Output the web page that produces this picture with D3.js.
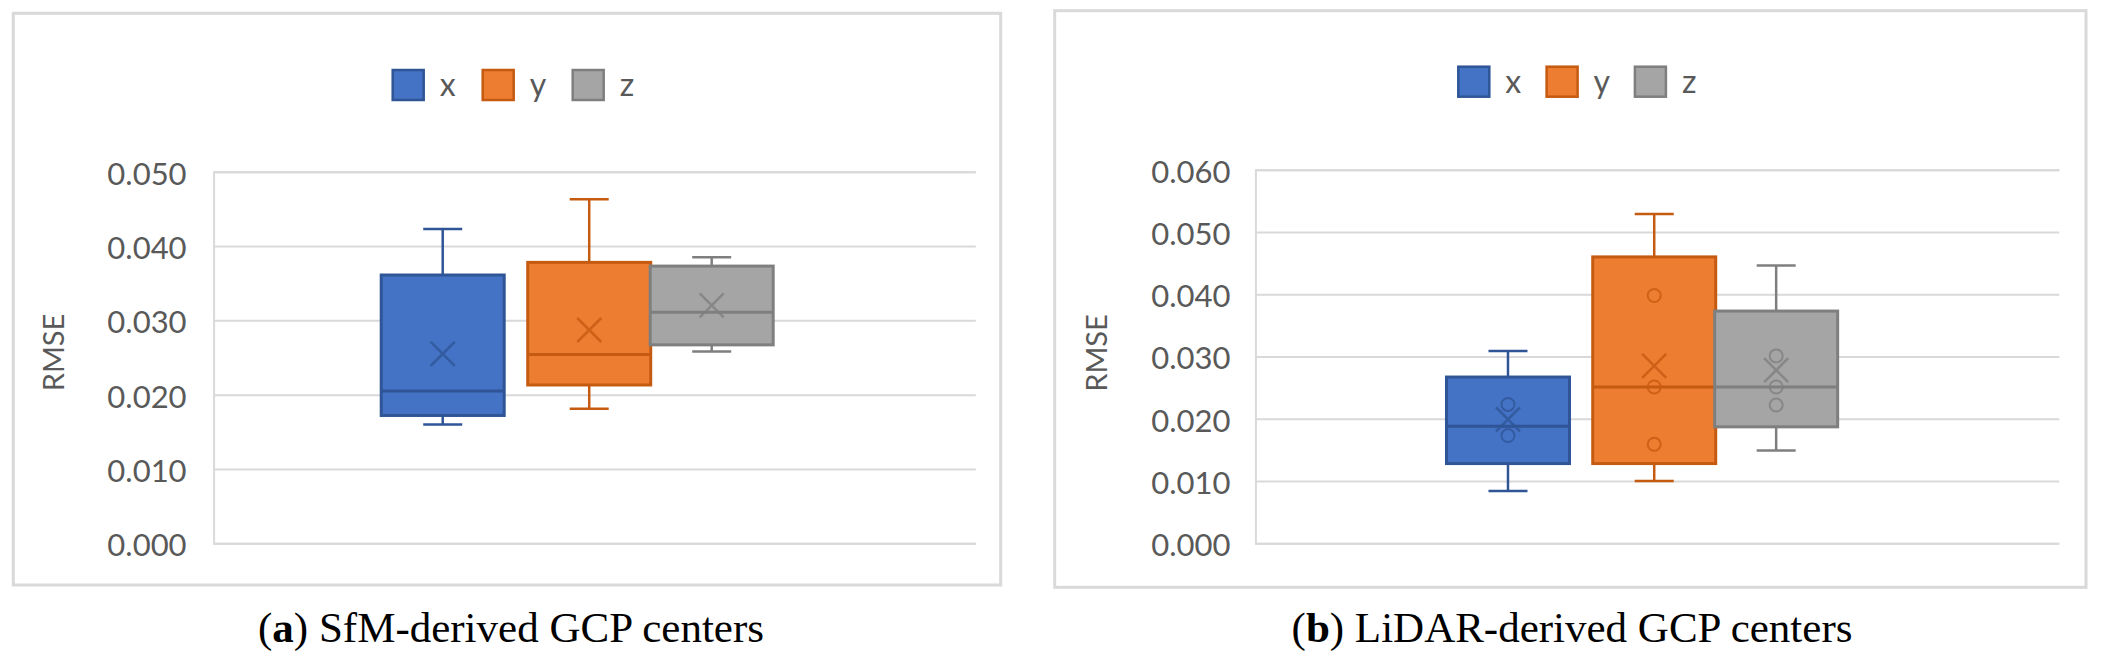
<!DOCTYPE html>
<html>
<head>
<meta charset="utf-8">
<script src="https://cdn.jsdelivr.net/npm/d3@7"></script>
<style>
  html, body { margin: 0; padding: 0; background: #ffffff; }
  svg { display: block; }
</style>
</head>
<body>
<svg id="chart" width="2102" height="659"></svg>
<script>
// ---------------- DATA ----------------
const series = ["x", "y", "z"];

// (a) SfM-derived GCP centers
const aTicks = [0.000, 0.010, 0.020, 0.030, 0.040, 0.050];
const aMin    = [0.0160, 0.0181, 0.0258];
const aQ1     = [0.0172, 0.0213, 0.0267];
const aMedian = [0.0205, 0.0254, 0.0311];
const aQ3     = [0.0361, 0.0378, 0.0373];
const aMax    = [0.0423, 0.0463, 0.0385];
const aMean   = [0.0255, 0.0287, 0.0320];
const aPoints = [[], [], []];

// (b) LiDAR-derived GCP centers
const bTicks = [0.000, 0.010, 0.020, 0.030, 0.040, 0.050, 0.060];
const bMin    = [0.0084, 0.0100, 0.0149];
const bQ1     = [0.0128, 0.0128, 0.0187];
const bMedian = [0.0188, 0.0251, 0.0251];
const bQ3     = [0.0267, 0.0460, 0.0373];
const bMax    = [0.0309, 0.0529, 0.0446];
const bMean   = [0.0199, 0.0285, 0.0278];
const bPoints = [[0.0223, 0.0173], [0.0398, 0.0251, 0.0159], [0.0301, 0.0251, 0.0222]];

const axisTitle = "RMSE";
const captionLetters = ["a", "b"];
const captionTexts = [" SfM-derived GCP centers", " LiDAR-derived GCP centers"];

// ---------------- STYLE ----------------
const fillColor = d3.scaleOrdinal().domain(series).range(["#4472C4", "#ED7D31", "#A5A5A5"]);
const strokeColor = d3.scaleOrdinal().domain(series).range(["#2F5597", "#C55A11", "#7F7F7F"]);
const textColor = "#595959";
const gridColor = "#d9d9d9";
const sansFont = "Lato, 'Open Sans', 'Liberation Sans', sans-serif";
const serifFont = "'Liberation Serif', 'DejaVu Serif', serif";

const charts = [
  {
    ticks: aTicks, min: aMin, q1: aQ1, med: aMedian, q3: aQ3, max: aMax, mean: aMean, pts: aPoints,
    panel: { x0: 13.3, y0: 13.3, x1: 1000.7, y1: 585 },
    plot: { left: 213.6, right: 975.8, top: 171.7, bottom: 543.3 },
    centers: [0.3006, 0.4928, 0.6535],
    legend: { x: 392.7, cy: 85, pitch: 90 },
    rmseX: 53.3, rmseY: 352.5, labelGap: 27,
    captionX: 511
  },
  {
    ticks: bTicks, min: bMin, q1: bQ1, med: bMedian, q3: bQ3, max: bMax, mean: bMean, pts: bPoints,
    panel: { x0: 1054.7, y0: 10.7, x1: 2086, y1: 587.3 },
    plot: { left: 1255.4, right: 2059.3, top: 169.75, bottom: 543.25 },
    centers: [0.3142, 0.4961, 0.6478],
    legend: { x: 1458.3, cy: 81.7, pitch: 88.3 },
    rmseX: 1097, rmseY: 353, labelGap: 25,
    captionX: 1572
  }
];

const svg = d3.select("#chart");
const boxW = 123, capW = 39;

charts.forEach((c, ci) => {
  const g = svg.append("g");

  // panel border
  g.append("rect")
    .attr("x", c.panel.x0).attr("y", c.panel.y0)
    .attr("width", c.panel.x1 - c.panel.x0).attr("height", c.panel.y1 - c.panel.y0)
    .attr("fill", "#fff").attr("stroke", gridColor).attr("stroke-width", 3);

  const y = d3.scaleLinear()
    .domain([0, d3.max(c.ticks)])
    .range([c.plot.bottom, c.plot.top]);
  const frac = d3.scaleLinear().domain([0, 1]).range([c.plot.left, c.plot.right]);
  const xPos = d3.scaleOrdinal().domain(series).range(c.centers.map(f => frac(f)));

  // y axis with gridlines
  const axis = d3.axisLeft(y)
    .tickValues(c.ticks)
    .tickFormat(d3.format(".3f"))
    .tickSize(-(c.plot.right - c.plot.left))
    .tickPadding(c.labelGap);
  const ag = g.append("g")
    .attr("transform", `translate(${c.plot.left},0)`)
    .call(axis);
  ag.select(".domain").attr("stroke", gridColor).attr("stroke-width", 2);
  ag.selectAll(".tick line").attr("stroke", gridColor).attr("stroke-width", 2);
  ag.selectAll(".tick text")
    .attr("fill", textColor)
    .attr("font-family", sansFont)
    .attr("font-size", 31)
    .attr("dy", "0.40em");
  ag.attr("font-family", null).attr("font-size", null);

  // axis title
  g.append("text")
    .attr("transform", `translate(${c.rmseX},${c.rmseY}) rotate(-90)`)
    .attr("text-anchor", "middle")
    .attr("dy", "0.36em")
    .attr("fill", textColor)
    .attr("font-family", sansFont)
    .attr("font-size", 29)
    .text(axisTitle);

  // legend
  const lg = g.append("g");
  series.forEach((s, i) => {
    const lx = c.legend.x + i * c.legend.pitch;
    lg.append("rect")
      .attr("x", lx).attr("y", c.legend.cy - 15)
      .attr("width", 31).attr("height", 30)
      .attr("fill", fillColor(s)).attr("stroke", strokeColor(s)).attr("stroke-width", 2.5);
    lg.append("text")
      .attr("x", lx + 47).attr("y", c.legend.cy + 11)
      .attr("fill", textColor)
      .attr("font-family", sansFont)
      .attr("font-size", 32)
      .text(s);
  });

  // boxes
  const data = series.map((s, i) => ({
    s, min: c.min[i], q1: c.q1[i], med: c.med[i], q3: c.q3[i], max: c.max[i], mean: c.mean[i], pts: c.pts[i]
  }));

  const bg = g.selectAll("g.box").data(data).join("g").attr("class", "box");

  // whiskers
  bg.append("line")
    .attr("x1", d => xPos(d.s)).attr("x2", d => xPos(d.s))
    .attr("y1", d => y(d.max)).attr("y2", d => y(d.q3))
    .attr("stroke", d => strokeColor(d.s)).attr("stroke-width", 2.5);
  bg.append("line")
    .attr("x1", d => xPos(d.s)).attr("x2", d => xPos(d.s))
    .attr("y1", d => y(d.q1)).attr("y2", d => y(d.min))
    .attr("stroke", d => strokeColor(d.s)).attr("stroke-width", 2.5);
  bg.append("line")
    .attr("x1", d => xPos(d.s) - capW / 2).attr("x2", d => xPos(d.s) + capW / 2)
    .attr("y1", d => y(d.max)).attr("y2", d => y(d.max))
    .attr("stroke", d => strokeColor(d.s)).attr("stroke-width", 2.5);
  bg.append("line")
    .attr("x1", d => xPos(d.s) - capW / 2).attr("x2", d => xPos(d.s) + capW / 2)
    .attr("y1", d => y(d.min)).attr("y2", d => y(d.min))
    .attr("stroke", d => strokeColor(d.s)).attr("stroke-width", 2.5);

  // box
  bg.append("rect")
    .attr("x", d => xPos(d.s) - boxW / 2)
    .attr("y", d => y(d.q3))
    .attr("width", boxW)
    .attr("height", d => y(d.q1) - y(d.q3))
    .attr("fill", d => fillColor(d.s))
    .attr("stroke", d => strokeColor(d.s))
    .attr("stroke-width", 3);

  // median
  bg.append("line")
    .attr("x1", d => xPos(d.s) - boxW / 2).attr("x2", d => xPos(d.s) + boxW / 2)
    .attr("y1", d => y(d.med)).attr("y2", d => y(d.med))
    .attr("stroke", d => strokeColor(d.s)).attr("stroke-width", 3);

  // inner points
  bg.each(function (d) {
    d3.select(this).selectAll("circle")
      .data(d.pts)
      .join("circle")
      .attr("cx", xPos(d.s))
      .attr("cy", v => y(v))
      .attr("r", 6.5)
      .attr("fill", "none")
      .attr("stroke", strokeColor(d.s))
      .attr("stroke-width", 2)
      .attr("opacity", 0.8);
  });

  // mean marker (X)
  const m = 12;
  bg.append("path")
    .attr("d", d => {
      const cx = xPos(d.s), cy = y(d.mean);
      return `M${cx - m},${cy - m}L${cx + m},${cy + m}M${cx - m},${cy + m}L${cx + m},${cy - m}`;
    })
    .attr("fill", "none")
    .attr("stroke", d => strokeColor(d.s))
    .attr("stroke-width", 2.5)
    .attr("opacity", 0.8);

  // caption
  const cap = svg.append("text")
    .attr("x", c.captionX).attr("y", 642)
    .attr("text-anchor", "middle")
    .attr("fill", "#000")
    .attr("font-family", serifFont)
    .attr("font-size", 43);
  cap.append("tspan").text("(");
  cap.append("tspan").attr("font-weight", "bold").text(captionLetters[ci]);
  cap.append("tspan").text(")" + captionTexts[ci]);
});
</script>
</body>
</html>
